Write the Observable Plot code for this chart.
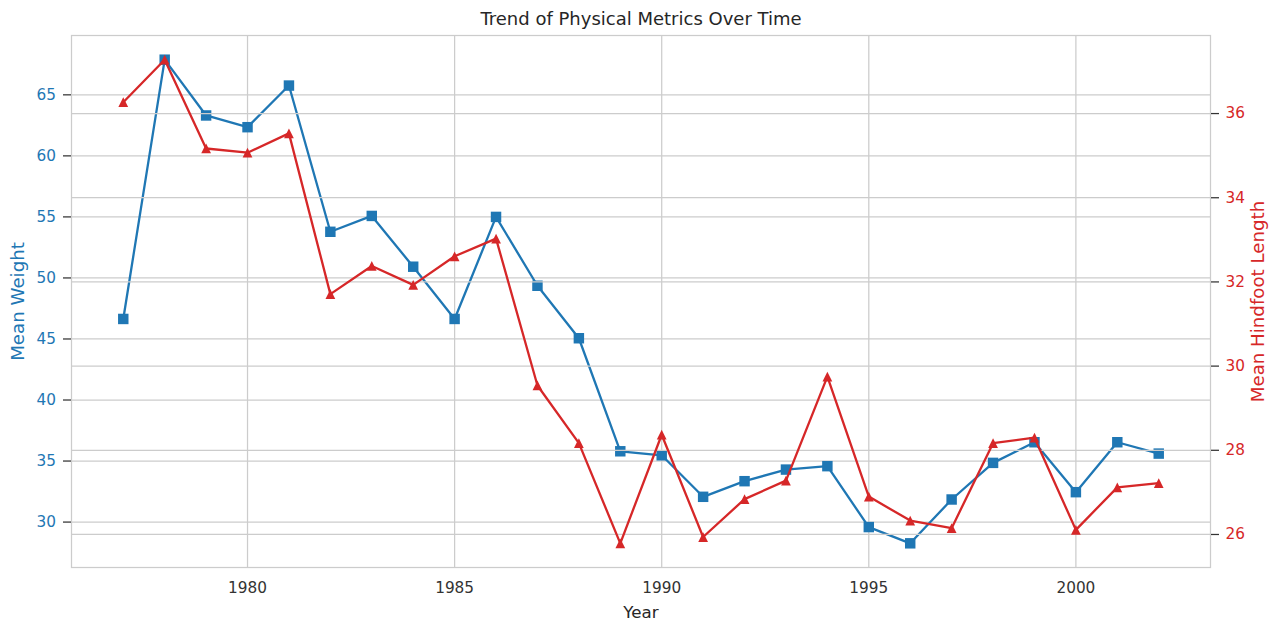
<!DOCTYPE html>
<html>
<head>
<meta charset="utf-8">
<script src="https://cdn.jsdelivr.net/npm/d3@7"></script>
<script src="https://cdn.jsdelivr.net/npm/@observablehq/plot@0.6"></script>
<style>
  html, body { margin: 0; padding: 0; background: #ffffff; overflow: hidden; }
</style>
</head>
<body>
<div id="chart"></div>
<script>
// ---- data ----
const years = [1977, 1978, 1979, 1980, 1981, 1982, 1983, 1984, 1985, 1986, 1987, 1988, 1989,
               1990, 1991, 1992, 1993, 1994, 1995, 1996, 1997, 1998, 1999, 2000, 2001, 2002];
const meanWeight = [46.64, 67.88, 63.31, 62.35, 65.76, 53.78, 55.08, 50.92, 46.64, 55.0, 49.36, 45.06, 35.8,
                    35.47, 32.07, 33.35, 34.3, 34.58, 29.59, 28.26, 31.85, 34.85, 36.54, 32.45, 36.54, 35.61];
const meanHindfoot = [36.27, 37.28, 35.17, 35.07, 35.53, 31.71, 32.38, 31.93, 32.61, 33.03, 29.54, 28.17, 25.79,
                      28.37, 25.94, 26.84, 27.28, 29.75, 26.9, 26.33, 26.15, 28.17, 28.3, 26.11, 27.12, 27.22];

const weightTicks = [30, 35, 40, 45, 50, 55, 60, 65];
const hindfootTicks = [26, 28, 30, 32, 34, 36];
const yearTicks = [1980, 1985, 1990, 1995, 2000];

const titleText = "Trend of Physical Metrics Over Time";
const xLabelText = "Year";
const leftLabelText = "Mean Weight";
const rightLabelText = "Mean Hindfoot Length";

const blue = "#1f77b4";
const red = "#d62728";
const gridColor = "#cccccc";

// ---- scales (matplotlib-like 5% margins) ----
function padded(ext) { const m = (ext[1] - ext[0]) * 0.05; return [ext[0] - m, ext[1] + m]; }
const xDom = padded(d3.extent(years));
const wDom = padded(d3.extent(meanWeight));
const hDom = padded(d3.extent(meanHindfoot));
const h2w = d3.scaleLinear(hDom, wDom);

const rows = years.map((year, i) => ({
  year,
  weight: meanWeight[i],
  hindfoot: meanHindfoot[i],
  hindfootW: h2w(meanHindfoot[i])
}));

// matplotlib-style "^" marker: equal width/height, centred on its bounding box
const triangleUp = {
  draw(context, size) {
    const h = Math.sqrt(size) / 2;
    context.moveTo(0, -h);
    context.lineTo(h, h);
    context.lineTo(-h, h);
    context.closePath();
  }
};

const gridStyle = { stroke: gridColor, strokeOpacity: 1, strokeWidth: 1.25 };

const chart = Plot.plot({
  width: 1276,
  height: 621,
  marginTop: 35,
  marginBottom: 54,
  marginLeft: 71,
  marginRight: 66,
  style: { fontFamily: "DejaVu Sans", fontSize: "15.3px", background: "#ffffff", color: "#262626" },
  x: { domain: xDom, label: null },
  y: { domain: wDom, label: null },
  marks: [
    Plot.gridX(yearTicks, gridStyle),
    Plot.gridY(weightTicks, gridStyle),
    Plot.line(rows, { x: "year", y: "weight", stroke: blue, strokeWidth: 2.3 }),
    Plot.dot(rows, { x: "year", y: "weight", symbol: "square", r: 5.9, fill: blue, stroke: "none" }),
    Plot.gridY(hindfootTicks.map(h2w), gridStyle),
    Plot.line(rows, { x: "year", y: "hindfootW", stroke: red, strokeWidth: 2.3 }),
    Plot.dot(rows, { x: "year", y: "hindfootW", symbol: triangleUp, r: 5.5, fill: red, stroke: "none" }),
    Plot.frame({ stroke: gridColor, strokeWidth: 1.25 }),
    Plot.axisX(yearTicks, {
      tickSize: 0, tickPadding: 14.5, tickFormat: d => String(d), label: null, fill: "#333333"
    }),
    Plot.axisY(weightTicks, {
      anchor: "left", tickSize: 8, tickPadding: 7.5, tickFormat: d => String(d), label: null,
      stroke: "#333333", strokeWidth: 1.25, fill: blue
    }),
    Plot.axisY(hindfootTicks.map(h2w), {
      anchor: "right", tickSize: 8, tickPadding: 7, label: null,
      tickFormat: w => String(Math.round(h2w.invert(w))),
      stroke: "#333333", strokeWidth: 1.25, fill: red
    }),
    Plot.text([titleText], {
      text: d => d, frameAnchor: "top", dy: -16, fontSize: 18, fill: "#262626",
      textAnchor: "middle", lineAnchor: "middle"
    }),
    Plot.text([xLabelText], {
      text: d => d, frameAnchor: "bottom", dy: 45, fontSize: 16.7, fill: "#262626",
      textAnchor: "middle", lineAnchor: "middle"
    }),
    Plot.text([leftLabelText], {
      text: d => d, frameAnchor: "left", dx: -53, rotate: -90, fontSize: 18.2, fill: blue,
      textAnchor: "middle", lineAnchor: "middle"
    }),
    Plot.text([rightLabelText], {
      text: d => d, frameAnchor: "right", dx: 48, rotate: -90, fontSize: 18.2, fill: red,
      textAnchor: "middle", lineAnchor: "middle"
    })
  ]
});

document.getElementById("chart").appendChild(chart);
</script>
</body>
</html>
